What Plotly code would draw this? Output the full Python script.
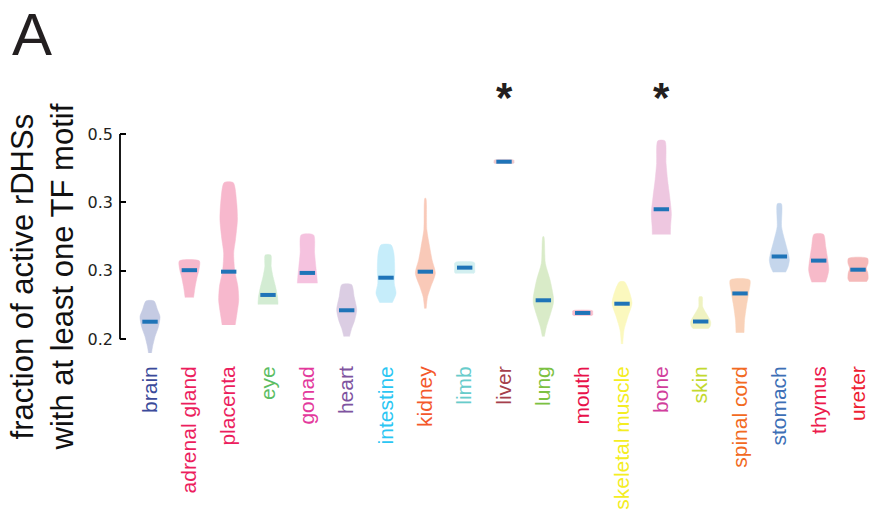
import plotly.graph_objects as go

# Tissues along the x axis
tissues = ["brain", "adrenal gland", "placenta", "eye", "gonad", "heart",
           "intestine", "kidney", "limb", "liver", "lung", "mouth",
           "skeletal muscle", "bone", "skin", "spinal cord", "stomach",
           "thymus", "ureter"]

# Median fraction of active rDHSs with at least one TF motif
medians = [0.2257, 0.301, 0.2988, 0.2648, 0.297, 0.2424, 0.290, 0.2988,
           0.3047, 0.4595, 0.257, 0.2385, 0.252, 0.390, 0.226, 0.267,
           0.321, 0.315, 0.3017]

# Density profile of each violin: value levels and relative width (1 = widest)
profile_levels = [
    [0.180, 0.189, 0.204, 0.218, 0.233, 0.243, 0.256],
    [0.261, 0.277, 0.2915, 0.301, 0.3145],
    [0.221, 0.238, 0.257, 0.277, 0.301, 0.326, 0.345, 0.374, 0.399, 0.429],
    [0.251, 0.262, 0.277, 0.2915, 0.306, 0.323],
    [0.282, 0.295, 0.306, 0.326, 0.3525],
    [0.204, 0.216, 0.228, 0.243, 0.262, 0.280],
    [0.2535, 0.267, 0.282, 0.301, 0.326, 0.338],
    [0.245, 0.262, 0.277, 0.2965, 0.316, 0.335, 0.360, 0.406],
    [0.296, 0.2975, 0.305, 0.3115, 0.313],
    [0.4565, 0.4575, 0.4595, 0.4615, 0.4625],
    [0.204, 0.218, 0.238, 0.2526, 0.262, 0.2867, 0.311, 0.350],
    [0.2345, 0.2355, 0.2385, 0.2415, 0.2425],
    [0.193, 0.2136, 0.233, 0.2526, 0.272, 0.284],
    [0.353, 0.3646, 0.384, 0.4085, 0.433, 0.457, 0.490],
    [0.2155, 0.219, 0.2257, 0.238, 0.2477, 0.262],
    [0.2097, 0.228, 0.2477, 0.267, 0.2867],
    [0.298, 0.306, 0.316, 0.3257, 0.345, 0.3646, 0.398],
    [0.2833, 0.2915, 0.301, 0.311, 0.3354, 0.3535],
    [0.2842, 0.288, 0.2965, 0.3038, 0.311, 0.3184],
]
profile_widths = [
    [0.15, 0.25, 0.5, 0.83, 1.0, 0.75, 0.4],
    [0.42, 0.58, 0.78, 0.95, 1.0],
    [0.65, 0.83, 1.0, 0.92, 0.6, 0.5, 0.67, 0.87, 0.8, 0.45],
    [1.0, 0.95, 0.75, 0.5, 0.32, 0.28],
    [1.0, 0.93, 0.85, 0.72, 0.62],
    [0.28, 0.5, 0.8, 1.0, 0.75, 0.48],
    [0.62, 1.0, 0.82, 0.87, 0.78, 0.5],
    [0.08, 0.22, 0.55, 1.0, 0.67, 0.43, 0.15, 0.05],
    [0.85, 1.0, 1.0, 1.0, 0.85],
    [0.8, 1.0, 1.0, 1.0, 0.8],
    [0.1, 0.3, 0.73, 1.0, 1.0, 0.67, 0.2, 0.05],
    [0.8, 1.0, 1.0, 1.0, 0.8],
    [0.07, 0.2, 0.58, 1.0, 0.67, 0.25],
    [0.9, 0.92, 1.0, 0.83, 0.62, 0.47, 0.35],
    [0.75, 0.95, 1.0, 0.55, 0.2, 0.15],
    [0.4, 0.45, 0.63, 0.85, 0.97],
    [0.62, 0.87, 1.0, 0.88, 0.53, 0.22, 0.2],
    [0.68, 0.87, 1.0, 0.95, 0.7, 0.47],
    [0.85, 1.0, 0.98, 0.83, 1.0, 0.95],
]

label_colors = ["#3b4a9a", "#ec1e5e", "#ec1e5e", "#5cbd63", "#e3399c",
                "#7e53a0", "#2bc6f3", "#f4582b", "#68cccb", "#a63f4c",
                "#7cc142", "#e8114a", "#f4ed22", "#d13e9c", "#c3d92f",
                "#f26a22", "#3d6fb6", "#ec1b4d", "#ee2131"]
fill_colors = ["#c5cbe3", "#f7b8cc", "#f7b8cd", "#d3ecd3", "#f5c2df",
               "#dbcde3", "#c6edfa", "#f9c9b8", "#d2eff0", "#eec9cd",
               "#d9ebc8", "#f8bccb", "#fbf8be", "#eec7e0", "#eff2c1",
               "#f9d2b9", "#c5d6ec", "#f7bac9", "#f5b9b9"]

# Tissues marked as significant
starred = ["liver", "bone"]

y_ticks = [0.2, 0.3, 0.4, 0.5]
y_ticktext = ["0.2", "0.3", "0.3", "0.5"]

HALF = 0.255  # half-width of the widest part of a violin, in category units

fig = go.Figure()

for i, (lev, wid) in enumerate(zip(profile_levels, profile_widths)):
    xs = [i + HALF * w for w in wid] + [i - HALF * w for w in reversed(wid)]
    ys = list(lev) + list(reversed(lev))
    fig.add_trace(go.Scatter(
        x=xs, y=ys, mode="lines", fill="toself",
        fillcolor=fill_colors[i],
        line=dict(color=fill_colors[i], width=0.5, shape="spline", smoothing=0.7),
        hoverinfo="skip", showlegend=False))

fig.add_trace(go.Scatter(
    x=list(range(len(tissues))), y=medians, mode="markers",
    marker=dict(symbol="line-ew", size=11,
                line=dict(width=4, color="#1f74b8")),
    showlegend=False, hoverinfo="skip"))

ticktext = [f'<span style="color:{c}">{t}</span>'
            for t, c in zip(tissues, label_colors)]

fig.update_layout(
    width=871, height=514,
    margin=dict(l=120, r=0, t=86, b=153),
    plot_bgcolor="white", paper_bgcolor="white",
    xaxis=dict(range=[-0.763, 18.33], tickmode="array",
               tickvals=list(range(len(tissues))), ticktext=ticktext,
               tickangle=-90, showgrid=False, zeroline=False, showline=False,
               ticks="", tickfont=dict(family="Liberation Sans, Arial", size=21)),
    yaxis=dict(range=[0.1683, 0.5701], tickmode="array", tickvals=y_ticks,
               ticktext=y_ticktext, showgrid=False, zeroline=False,
               showline=False, ticks="inside", ticklen=6, tickwidth=1.8,
               tickcolor="black", ticklabelstandoff=6,
               tickfont=dict(family="DejaVu Sans", size=16, color="#231f20")),
)

# y axis spine limited to the tick range
fig.add_shape(type="line", xref="paper", yref="y", x0=0, x1=0,
              y0=y_ticks[0], y1=y_ticks[-1],
              line=dict(color="black", width=1.8))

fig.add_annotation(
    text="fraction of active rDHSs<br>with at least one TF motif",
    xref="paper", yref="paper", x=-0.1032, y=0.3055,
    xanchor="center", yanchor="middle", textangle=-90, showarrow=False,
    font=dict(family="Liberation Sans, Arial", size=31, color="#111111"))

fig.add_annotation(
    text="A", xref="paper", yref="paper", x=-0.1465, y=1.186,
    xanchor="left", yanchor="middle", showarrow=False,
    font=dict(family="Liberation Sans, Arial", size=60, color="#231f20"))

for name in starred:
    fig.add_annotation(
        text="<b>*</b>", xref="x", yref="paper", x=tissues.index(name),
        y=0.96, xanchor="center", yanchor="middle", showarrow=False,
        font=dict(family="Liberation Sans, Arial", size=42, color="#231f20"))

fig.write_html("out.html")
